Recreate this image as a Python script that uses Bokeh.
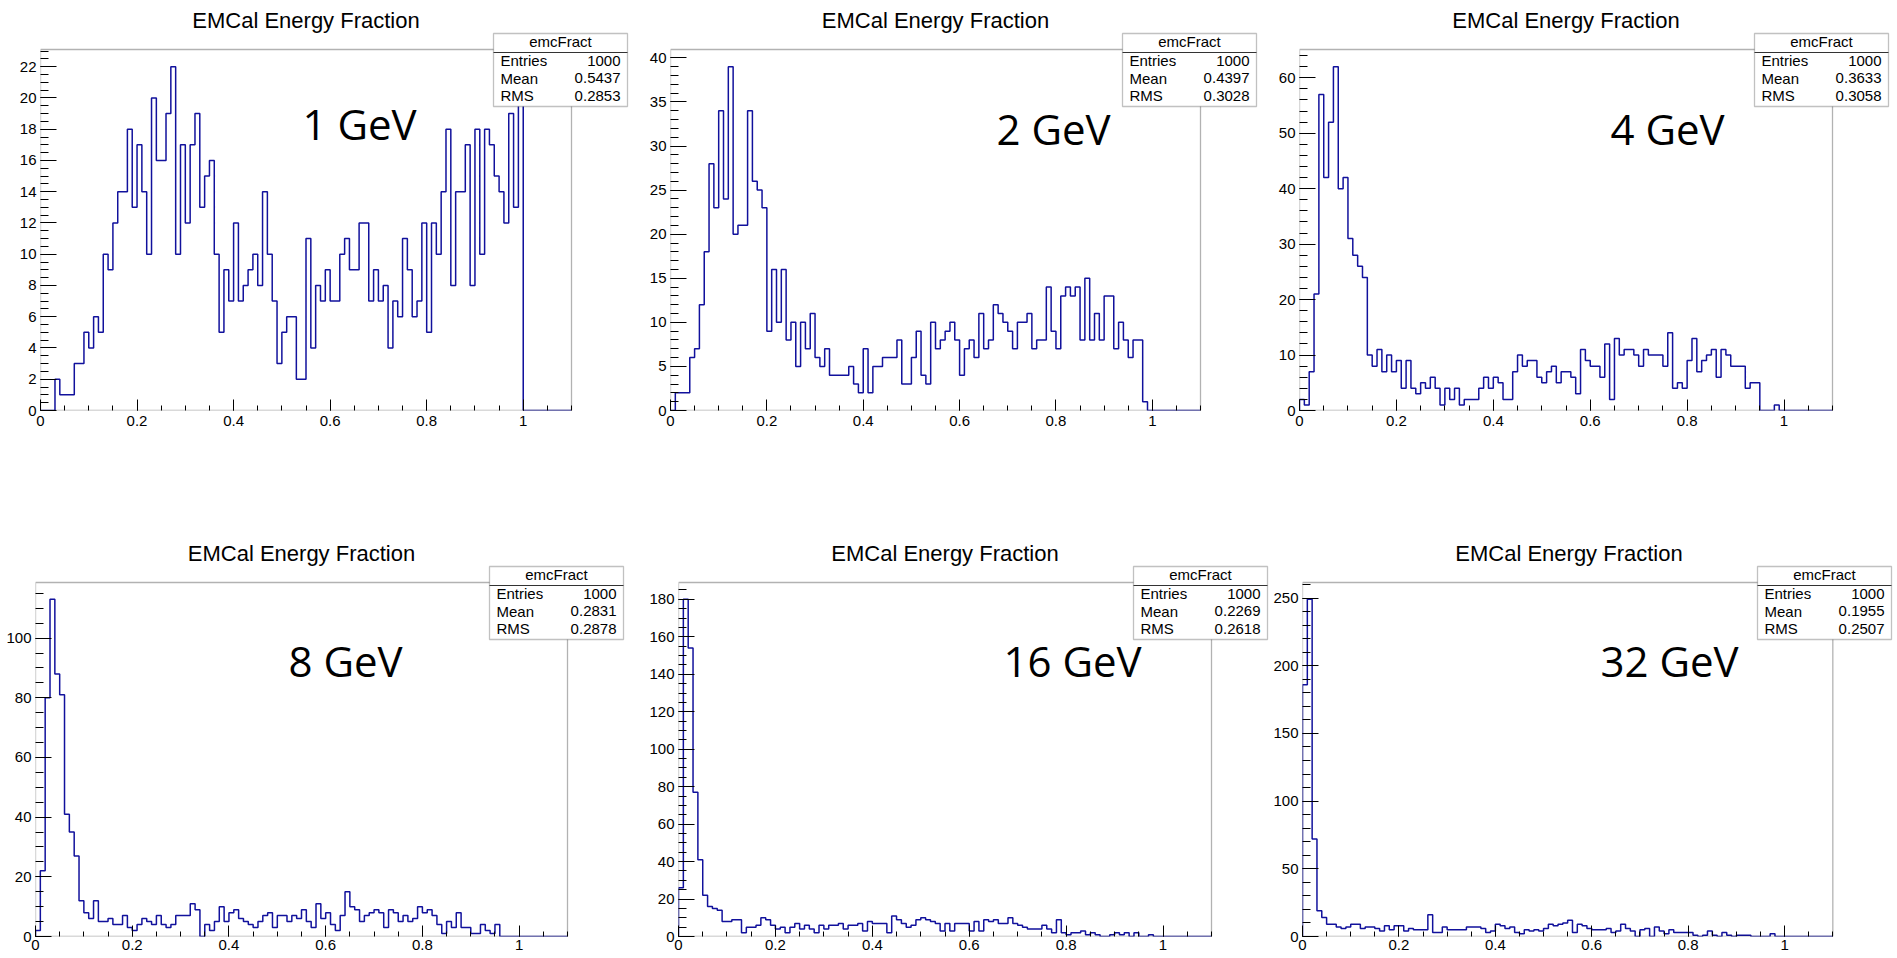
import numpy as np
from bokeh.plotting import figure
from bokeh.models import (Label, BoxAnnotation, FixedTicker,
                          CustomJSTickFormatter, Range1d)
from bokeh.layouts import column, row
from bokeh.embed import file_html
from bokeh.resources import INLINE

# ---------------- data ----------------
title_text = "EMCal Energy Fraction"
hist_name = "emcFract"
energy_labels = ["1 GeV", "2 GeV", "4 GeV", "8 GeV", "16 GeV", "32 GeV"]
x_min, x_max, bin_width = 0.0, 1.1, 0.01
x_major_ticks = [0.0, 0.2, 0.4, 0.6, 0.8, 1.0]
x_minor_step = 0.05

counts_1gev = [0, 0, 0, 2, 1, 1, 1, 3, 3, 5,
               4, 6, 5, 10, 9, 12, 14, 14, 18, 13,
               17, 14, 10, 20, 16, 16, 19, 22, 10, 17,
               12, 17, 19, 13, 15, 16, 10, 5, 9, 7,
               12, 7, 8, 9, 10, 8, 14, 10, 7, 3,
               5, 6, 6, 2, 2, 11, 4, 8, 7, 9,
               7, 7, 10, 11, 9, 9, 12, 12, 7, 9,
               7, 8, 4, 7, 6, 11, 9, 6, 7, 12,
               5, 12, 10, 14, 18, 8, 14, 14, 17, 8,
               18, 10, 18, 17, 15, 14, 12, 19, 13, 21]

counts_2gev = [0, 2, 2, 2, 6, 7, 12, 18, 28, 23,
               34, 24, 39, 20, 21, 21, 34, 26, 25, 23,
               9, 16, 10, 16, 8, 10, 5, 10, 7, 11,
               6, 5, 7, 4, 4, 4, 4, 5, 3, 2,
               7, 2, 5, 5, 6, 6, 6, 8, 3, 3,
               6, 9, 4, 3, 10, 7, 8, 9, 10, 8,
               4, 7, 8, 6, 11, 7, 8, 12, 11, 10,
               9, 7, 10, 10, 11, 7, 8, 8, 14, 9,
               7, 13, 14, 13, 14, 8, 15, 8, 11, 8,
               13, 13, 7, 10, 8, 6, 8, 8, 1]

counts_4gev = [2, 1, 7, 21, 57, 42, 52, 62, 40, 42,
               31, 28, 26, 24, 10, 8, 11, 7, 10, 7,
               9, 4, 9, 4, 3, 5, 4, 6, 4, 1,
               4, 2, 4, 1, 2, 2, 2, 4, 6, 4,
               6, 5, 2, 2, 7, 10, 8, 9, 9, 6,
               5, 7, 8, 5, 7, 7, 6, 3, 11, 9,
               8, 8, 6, 12, 2, 13, 10, 11, 11, 10,
               8, 11, 10, 10, 10, 8, 14, 4, 5, 4,
               9, 13, 7, 9, 10, 11, 6, 11, 10, 8,
               8, 8, 4, 5, 5, 0, 0, 0, 1]

counts_8gev = [2, 22, 80, 113, 88, 81, 41, 35, 27, 12,
               8, 6, 12, 5, 5, 6, 4, 4, 7, 3,
               2, 4, 6, 5, 4, 7, 4, 3, 4, 7,
               7, 7, 11, 9, 0, 4, 2, 5, 10, 5,
               8, 9, 6, 5, 4, 3, 5, 7, 8, 3,
               7, 7, 5, 7, 6, 9, 5, 3, 11, 6,
               8, 4, 2, 7, 15, 10, 9, 5, 7, 8,
               9, 8, 3, 9, 8, 5, 7, 5, 6, 10,
               8, 9, 7, 4, 1, 5, 3, 8, 3, 3,
               1, 1, 4, 2, 1, 4]

counts_16gev = [26, 180, 154, 77, 41, 22, 16, 15, 14, 8,
                8, 9, 9, 2, 5, 5, 6, 10, 9, 6,
                4, 5, 2, 5, 7, 4, 6, 4, 2, 6,
                4, 6, 6, 7, 4, 6, 6, 7, 3, 8,
                7, 7, 7, 2, 11, 9, 7, 5, 6, 9,
                10, 9, 8, 7, 3, 7, 3, 7, 7, 7,
                3, 8, 3, 9, 8, 9, 7, 7, 10, 7,
                6, 5, 4, 4, 4, 6, 4, 2, 9, 2,
                1, 2, 2, 3, 1, 2, 1, 0, 0, 1,
                2, 1, 2, 0, 2, 0, 0, 1]

counts_32gev = [186, 249, 72, 19, 14, 9, 9, 7, 6, 7,
                9, 9, 6, 7, 7, 6, 4, 8, 5, 8,
                8, 4, 6, 5, 5, 5, 16, 3, 3, 7,
                5, 5, 5, 5, 7, 7, 7, 6, 3, 4,
                9, 8, 6, 7, 3, 2, 5, 4, 5, 4,
                6, 9, 8, 9, 10, 12, 3, 9, 8, 6,
                5, 5, 5, 6, 3, 4, 9, 6, 4, 0,
                5, 6, 0, 7, 4, 2, 5, 3, 3, 3,
                3, 1, 0, 1, 4, 1, 0, 3, 1, 0,
                1, 1, 1, 0, 0, 0, 0, 2]

entries = ["1000", "1000", "1000", "1000", "1000", "1000"]
means = ["0.5437", "0.4397", "0.3633", "0.2831", "0.2269", "0.1955"]
rms_values = ["0.2853", "0.3028", "0.3058", "0.2878", "0.2618", "0.2507"]
y_major = [2, 5, 10, 20, 20, 50]
y_minor_div = [4, 5, 5, 4, 4, 5]

all_counts = [counts_1gev, counts_2gev, counts_4gev,
              counts_8gev, counts_16gev, counts_32gev]

# ---------------- layout (pixels) ----------------
# fig width, fig height, left border, hist-frame width, space above hist frame,
# bottom border, energy-label offset (from frame left, below frame top)
layouts = [
    (640, 530, 40, 531, 49, 120, 262, 92),
    (628, 530, 30, 530, 49, 120, 326, 97),
    (629, 530, 31, 533, 49, 120, 311, 97),
    (640, 428, 35, 532, 52, 22, 253, 96),
    (630, 428, 38, 533, 52, 22, 325, 96),
    (627, 428, 29, 533, 52, 22, 298, 96),
]

HIST_COLOR = "#11119c"
FONT = "Liberation Sans"
# vertical corrections for how labels are anchored
TITLE_DY, STATS_DY, ENERGY_DY = 6, 7, 18


def make_panel(i):
    counts = all_counts[i]
    w, h, bl, fw, bt, bb, tdx, tdy = layouts[i]
    fh = h - bt - bb                 # histogram frame height
    bw, bh = w - bl, h - bb          # bokeh frame (extends right & up)
    n_bins = int(round((x_max - x_min) / bin_width))
    vals = list(counts) + [0] * (n_bins - len(counts))
    edges = [x_min + k * bin_width for k in range(n_bins + 1)]
    xs, ys = [edges[0]], [0]
    for k, v in enumerate(vals):
        xs += [edges[k], edges[k + 1]]
        ys += [v, v]
    xs.append(edges[-1])
    ys.append(0)
    ytop = 1.05 * max(vals)

    x_end = x_min + (x_max - x_min) * bw / fw
    y_end = ytop * bh / fh

    p = figure(width=w, height=h, x_range=Range1d(x_min, x_end),
               y_range=Range1d(0, y_end), output_backend="svg",
               toolbar_location=None, min_border_left=bl, min_border_right=0,
               min_border_top=0, min_border_bottom=bb)
    p.xgrid.visible = False
    p.ygrid.visible = False
    p.outline_line_color = None
    p.background_fill_color = "white"
    p.border_fill_color = "white"

    p.line(xs, ys, line_color=HIST_COLOR, line_width=1.5)

    # histogram frame
    p.add_layout(BoxAnnotation(left=x_min, right=x_max, bottom=0, top=ytop,
                               fill_alpha=0, line_color="black",
                               line_width=1.3, level="overlay"))

    x_minor = [round(k * x_minor_step, 4)
               for k in range(int(round((x_max - x_min) / x_minor_step)) + 1)]
    ymaj = y_major[i]
    ystep = ymaj / y_minor_div[i]
    y_major_ticks = [k * ymaj for k in range(int(ytop // ymaj) + 1)]
    y_minor_ticks = [k * ystep for k in range(int(ytop // ystep) + 1)]
    p.xaxis.ticker = FixedTicker(ticks=x_major_ticks, minor_ticks=x_minor)
    p.yaxis.ticker = FixedTicker(ticks=y_major_ticks, minor_ticks=y_minor_ticks)
    p.xaxis.formatter = CustomJSTickFormatter(
        code="return String(parseFloat(tick.toFixed(2)));")
    for ax in (p.xaxis[0], p.yaxis[0]):
        ax.axis_line_color = None
        ax.major_tick_line_color = "black"
        ax.minor_tick_line_color = "black"
        ax.major_tick_out = 0
        ax.minor_tick_out = 0
        ax.major_label_text_font = FONT
        ax.major_label_text_font_size = "15px"
        ax.major_label_text_color = "black"
    p.xaxis.major_tick_in = 11
    p.xaxis.minor_tick_in = 5
    p.xaxis.major_label_standoff = 5 if i < 3 else 3
    p.yaxis.major_tick_in = 16
    p.yaxis.minor_tick_in = 8
    p.yaxis.major_label_standoff = 4

    # title
    p.add_layout(Label(x=fw / 2, y=fh + 23 + TITLE_DY, x_units="screen",
                       y_units="screen", text=title_text, text_align="center",
                       text_baseline="alphabetic", text_font=FONT,
                       text_font_size="22px", text_color="black"))

    # stats box
    p.add_layout(BoxAnnotation(left=fw - 78, right=fw + 56, top=fh + 16,
                               bottom=fh - 57, left_units="screen",
                               right_units="screen", top_units="screen",
                               bottom_units="screen", fill_color="white",
                               fill_alpha=1.0, line_color="#333333",
                               line_width=1.3, level="overlay"))
    p.add_layout(BoxAnnotation(left=fw - 78, right=fw + 56, top=fh - 2.5,
                               bottom=fh - 3.5, left_units="screen",
                               right_units="screen", top_units="screen",
                               bottom_units="screen", fill_color="#333333",
                               fill_alpha=1.0, line_alpha=0, level="overlay"))
    p.add_layout(Label(x=fw - 11, y=fh + 1 + STATS_DY, x_units="screen",
                       y_units="screen", text=hist_name, text_align="center",
                       text_baseline="alphabetic", text_font=FONT,
                       text_font_size="15px", text_color="black",
                       level="overlay"))
    rows = [("Entries", entries[i]), ("Mean", means[i]), ("RMS", rms_values[i])]
    for r, (name, val) in enumerate(rows):
        yb = fh - (18 + 17.5 * r) + STATS_DY
        p.add_layout(Label(x=fw - 71, y=yb, x_units="screen", y_units="screen",
                           text=name, text_align="left",
                           text_baseline="alphabetic", text_font=FONT,
                           text_font_size="15px", text_color="black",
                           level="overlay"))
        p.add_layout(Label(x=fw + 49, y=yb, x_units="screen", y_units="screen",
                           text=val, text_align="right",
                           text_baseline="alphabetic", text_font=FONT,
                           text_font_size="15px", text_color="black",
                           level="overlay"))

    # energy label
    p.add_layout(Label(x=tdx, y=fh - tdy + ENERGY_DY, x_units="screen",
                       y_units="screen", text=energy_labels[i],
                       text_align="left", text_baseline="alphabetic",
                       text_font="Open Sans", text_font_size="42px",
                       text_color="black"))
    return p


panels = [make_panel(i) for i in range(6)]
layout = column(row(*panels[:3]), row(*panels[3:]))

with open("out.html", "w") as f:
    f.write(file_html(layout, INLINE))
